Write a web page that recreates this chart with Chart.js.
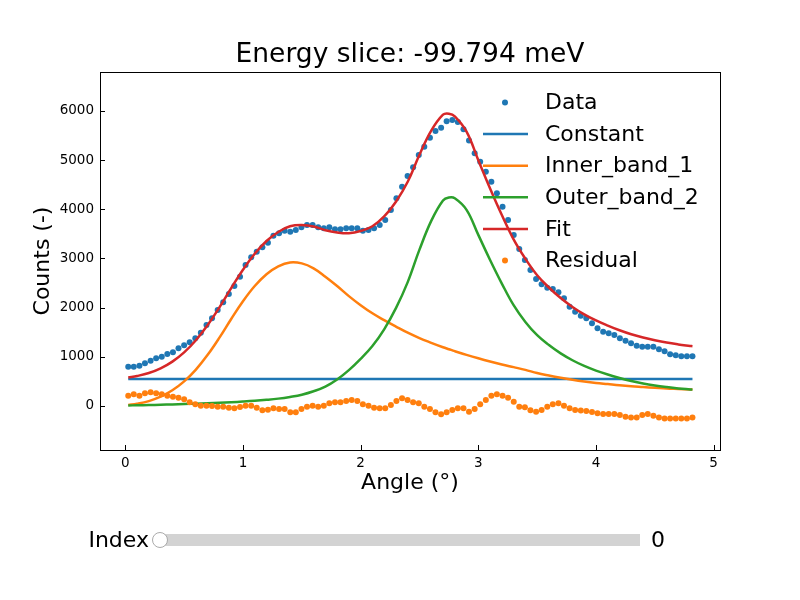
<!DOCTYPE html>
<html>
<head>
<meta charset="utf-8">
<title>Energy slice</title>
<script src="https://cdn.jsdelivr.net/npm/chart.js@4.4.0/dist/chart.umd.min.js"></script>
<style>
  body { margin: 0; background: #fff; font-family: "DejaVu Sans", sans-serif; }
  #wrap { position: relative; width: 800px; height: 600px; overflow: hidden; }
  #chart { position: absolute; left: 0; top: 0; }
  .label { position: absolute; font-size: 22px; line-height: 26px; color: #000; }
  #idx { right: 651px; top: 527px; }
  #val { left: 651px; top: 527px; }
  #track { position: absolute; left: 160px; top: 534px; width: 480px; height: 12px; background: #d3d3d3; }
  #knob { position: absolute; left: 152px; top: 532px; width: 14px; height: 14px; border-radius: 50%; background: #fff; border: 1px solid #aaa; }
</style>
</head>
<body>
<div id="wrap">
  <canvas id="chart" width="800" height="600"></canvas>
  <div class="label" id="idx">Index</div>
  <div id="track"></div>
  <div id="knob"></div>
  <div class="label" id="val">0</div>
</div>
<script>
// measured points (angle in degrees, counts)
const angle = [0.025, 0.072, 0.120, 0.167, 0.215, 0.262, 0.310, 0.357, 0.405, 0.452,
    0.500, 0.547, 0.595, 0.642, 0.690, 0.737, 0.785, 0.832, 0.880, 0.927,
    0.975, 1.022, 1.070, 1.117, 1.165, 1.212, 1.259, 1.307, 1.354, 1.402,
    1.449, 1.497, 1.544, 1.592, 1.639, 1.687, 1.734, 1.782, 1.829, 1.877,
    1.924, 1.972, 2.019, 2.067, 2.114, 2.162, 2.209, 2.257, 2.304, 2.352,
    2.399, 2.446, 2.494, 2.541, 2.589, 2.636, 2.684, 2.731, 2.779, 2.826,
    2.874, 2.921, 2.969, 3.016, 3.064, 3.111, 3.158, 3.206, 3.253, 3.301,
    3.348, 3.396, 3.443, 3.491, 3.538, 3.586, 3.633, 3.681, 3.728, 3.776,
    3.823, 3.871, 3.918, 3.966, 4.013, 4.061, 4.108, 4.156, 4.203, 4.251,
    4.298, 4.346, 4.393, 4.440, 4.488, 4.535, 4.583, 4.630, 4.678, 4.725,
    4.773, 4.820];
const counts = [800, 800, 820, 868, 922, 970, 1003, 1058, 1092, 1174,
    1235, 1296, 1377, 1491, 1648, 1784, 1953, 2109, 2278, 2441,
    2630, 2868, 3024, 3139, 3228, 3322, 3464, 3512, 3566, 3546,
    3580, 3635, 3682, 3682, 3635, 3614, 3635, 3594, 3594, 3614,
    3614, 3614, 3566, 3580, 3614, 3682, 3784, 3987, 4224, 4461,
    4678, 4854, 5105, 5274, 5457, 5594, 5661, 5790, 5817, 5775,
    5630, 5400, 5140, 4969, 4766, 4563, 4326, 4054, 3784, 3478,
    3194, 2970, 2766, 2583, 2475, 2407, 2380, 2312, 2190, 2020,
    1918, 1837, 1784, 1682, 1580, 1511, 1478, 1444, 1377, 1328,
    1275, 1227, 1206, 1206, 1206, 1153, 1112, 1051, 1031, 1010,
    1010, 1010];
const residual = [210, 237, 210, 258, 278, 258, 237, 210, 190, 170,
    136, 75, 34, 6, 6, 0, -14, -14, -34, -47,
    -20, 6, 6, -34, -88, -75, -47, -61, -61, -129,
    -129, -61, -14, 6, -14, 6, 54, 75, 75, 102,
    122, 102, 34, 6, -34, -47, -47, 20, 102, 156,
    122, 75, 54, -14, -61, -129, -170, -129, -81, -47,
    -47, -115, -61, 34, 122, 210, 237, 210, 170, 88,
    -14, -27, -88, -115, -81, -14, 34, 54, 6, -47,
    -81, -90, -100, -120, -150, -164, -164, -164, -184, -218,
    -232, -232, -184, -164, -198, -232, -253, -253, -253, -253,
    -253, -232];

// model curves
const curveAngle = [0.025, 0.1, 0.2, 0.3, 0.4, 0.5, 0.6, 0.7, 0.8, 0.9,
    1.0, 1.1, 1.2, 1.3, 1.4, 1.5, 1.6, 1.7, 1.8, 1.9,
    2.0, 2.1, 2.2, 2.3, 2.4, 2.5, 2.6, 2.7, 2.75, 2.8,
    2.9, 3.0, 3.1, 3.2, 3.3, 3.4, 3.5, 3.6, 3.7, 3.8,
    3.9, 4.0, 4.1, 4.2, 4.3, 4.4, 4.5, 4.6, 4.7, 4.8,
    4.82];
const innerBand = [20, 45, 100, 190, 320, 500, 740, 1040, 1390, 1770,
    2130, 2440, 2680, 2840, 2920, 2900, 2800, 2630, 2440, 2235,
    2050, 1885, 1745, 1615, 1490, 1380, 1285, 1195, 1155, 1115,
    1040, 970, 905, 845, 790, 735, 670, 620, 575, 535,
    500, 470, 445, 420, 400, 385, 370, 355, 345, 335,
    333];
const outerBand = [10, 15, 20, 25, 32, 40, 48, 57, 67, 78,
    90, 105, 125, 150, 185, 230, 300, 395, 540, 730,
    960, 1220, 1560, 1990, 2520, 3180, 3765, 4180, 4240, 4225,
    3990, 3480, 2970, 2490, 2050, 1710, 1440, 1240, 1070, 930,
    815, 720, 640, 570, 508, 457, 417, 385, 358, 337,
    333];
const fit = [580, 610, 670, 765, 902, 1090, 1338, 1647, 2007, 2398,
    2770, 3095, 3355, 3540, 3655, 3680, 3650, 3575, 3530, 3515,
    3560, 3655, 3855, 4155, 4560, 5110, 5600, 5925, 5945, 5890,
    5580, 5000, 4425, 3885, 3390, 2995, 2660, 2410, 2195, 2015,
    1865, 1740, 1635, 1540, 1458, 1392, 1337, 1290, 1253, 1222,
    1216];
const constantAngle = [0.025, 4.82];
const constantCounts = [550, 550];

const angleTicks = [0, 1, 2, 3, 4, 5];
const countTicks = [0, 1000, 2000, 3000, 4000, 5000, 6000];

const FONT = '"DejaVu Sans", sans-serif';

function pts(xs, ys) {
    return xs.map(function (x, i) {
        return {x: x, y: ys[i]};
    });
}

function curve(label, color, xs, ys, order) {
    return {
        label: label, data: pts(xs, ys), showLine: true,
        borderColor: color, backgroundColor: color, borderWidth: 2.5,
        pointRadius: 0, tension: 0.4, order: order
    };
}

// matplotlib style box with ticks pointing inwards
const axesBox = {
    id: 'axesBox',
    afterDatasetsDraw(chart) {
        const {ctx, chartArea: a, scales: {x, y}} = chart;
        ctx.save();
        ctx.strokeStyle = '#000';
        ctx.lineWidth = 1;
        ctx.beginPath();
        x.ticks.forEach(function (t) {
            const px = Math.round(x.getPixelForValue(t.value)) + 0.5;
            ctx.moveTo(px, a.bottom);
            ctx.lineTo(px, a.bottom - 5);
        });
        y.ticks.forEach(function (t) {
            const py = Math.round(y.getPixelForValue(t.value)) + 0.5;
            ctx.moveTo(a.left, py);
            ctx.lineTo(a.left + 5, py);
        });
        ctx.stroke();
        ctx.strokeRect(Math.round(a.left) + 0.5, Math.round(a.top) + 0.5,
            Math.round(a.right - a.left), Math.round(a.bottom - a.top));
        ctx.restore();
    }
};

// legend inside the plot, no frame
const legendBox = {
    id: 'legendBox',
    afterDraw(chart) {
        const ctx = chart.ctx;
        const top = chart.chartArea.top;
        ctx.save();
        ctx.font = '22px ' + FONT;
        ctx.textBaseline = 'middle';
        chart.data.datasets.forEach(function (ds, i) {
            const y = top + 30.5 + i * 31.6;
            ctx.strokeStyle = ds.borderColor;
            ctx.fillStyle = ds.backgroundColor;
            if (ds.showLine) {
                ctx.lineWidth = 2.5;
                ctx.beginPath();
                ctx.moveTo(483, y);
                ctx.lineTo(528, y);
                ctx.stroke();
            } else {
                ctx.beginPath();
                ctx.arc(505, y, 3, 0, Math.PI * 2);
                ctx.fill();
            }
            ctx.fillStyle = '#000';
            ctx.fillText(ds.label, 545, y + 1);
        });
        ctx.restore();
    }
};

new Chart(document.getElementById('chart'), {
    type: 'scatter',
    data: {
        datasets: [
            {label: 'Data', data: pts(angle, counts), pointRadius: 3, borderWidth: 0,
                backgroundColor: '#1f77b4', borderColor: '#1f77b4', order: 6},
            curve('Constant', '#1f77b4', constantAngle, constantCounts, 5),
            curve('Inner_band_1', '#ff7f0e', curveAngle, innerBand, 4),
            curve('Outer_band_2', '#2ca02c', curveAngle, outerBand, 3),
            curve('Fit', '#d62728', curveAngle, fit, 2),
            {label: 'Residual', data: pts(angle, residual), pointRadius: 3, borderWidth: 0,
                backgroundColor: '#ff7f0e', borderColor: '#ff7f0e', order: 1}
        ]
    },
    options: {
        responsive: false,
        animation: false,
        layout: {padding: {left: 26, right: 80, top: 0, bottom: 100}},
        plugins: {
            legend: {display: false},
            tooltip: {enabled: false},
            title: {
                display: true, text: 'Energy slice: -99.794 meV', fullSize: false, color: '#000',
                font: {family: FONT, size: 26.5, weight: 'normal', lineHeight: 1.1},
                padding: {top: 41, bottom: 1.85}
            }
        },
        scales: {
            x: {
                type: 'linear', min: -0.215, max: 5.054,
                afterBuildTicks: function (s) {
                    s.ticks = angleTicks.map(function (v) { return {value: v}; });
                },
                afterFit: function (s) { s.height = 50; },
                grid: {display: false, drawTicks: false},
                border: {display: false},
                ticks: {
                    color: '#000', font: {family: FONT, size: 13.5}, padding: 5,
                    maxRotation: 0, autoSkip: false,
                    callback: function (v) { return String(v); }
                },
                title: {display: true, text: 'Angle (°)', color: '#000',
                    font: {family: FONT, size: 22}, padding: {top: 4, bottom: 4}}
            },
            y: {
                type: 'linear', min: -895, max: 6793,
                afterBuildTicks: function (s) {
                    s.ticks = countTicks.map(function (v) { return {value: v}; });
                },
                afterFit: function (s) { s.width = 74; },
                grid: {display: false, drawTicks: false},
                border: {display: false},
                ticks: {
                    color: '#000', font: {family: FONT, size: 13.5}, padding: 6,
                    autoSkip: false,
                    callback: function (v) { return String(v); }
                },
                title: {display: true, text: 'Counts (-)', color: '#000',
                    font: {family: FONT, size: 22}, padding: {top: 4, bottom: 4}}
            }
        }
    },
    plugins: [axesBox, legendBox]
});
</script>
</body>
</html>
